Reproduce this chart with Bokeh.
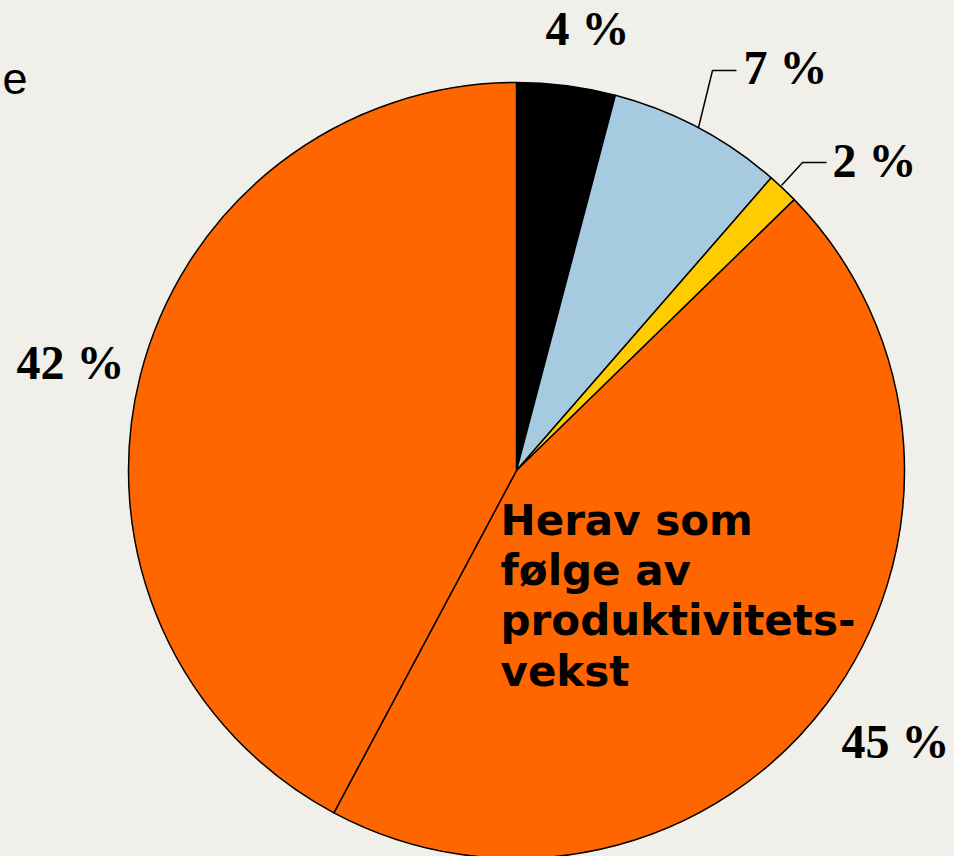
import numpy as np
from bokeh.plotting import figure
from bokeh.models import Range1d, GlobalInlineStyleSheet
from bokeh.core.properties import value
from bokeh.embed import file_html
from bokeh.resources import INLINE

# ---- data ----
shares = [4.1, 7.3, 1.3, 45.1, 42.2]          # percent, clockwise from 12 o'clock
labels = ["4 %", "7 %", "2 %", "45 %", "42 %"]
colors = ["#000000", "#A6CAE0", "#FFCC00", "#FF6600", "#FF6600"]
inner_text = ["Herav som", "følge av", "produktivitets-", "vekst"]
legend_fragment = "e"

BG = "#F0EFE9"
W, H = 954, 856

def Y(page_y):
    return H - page_y

def X(page_x):
    return page_x

p = figure(width=W, height=H, output_backend="svg", toolbar_location=None,
           x_range=Range1d(0, W), y_range=Range1d(0, H), min_border=0,
           background_fill_color=BG, border_fill_color=BG, outline_line_color=None)
p.axis.visible = False
p.grid.visible = False
p.stylesheets = [GlobalInlineStyleSheet(css=f"html, body {{ background: {BG}; }}")]

frac = np.array(shares) / np.sum(shares)
cum = np.concatenate([[0], np.cumsum(frac)])
start = np.pi / 2 - 2 * np.pi * cum[:-1]
end = np.pi / 2 - 2 * np.pi * cum[1:]

cx, cy, r = X(516), Y(470), 388
p.wedge(x=cx, y=cy, radius=r, start_angle=start, end_angle=end, direction="clock",
        fill_color=colors, line_color="black", line_width=1.5)

# percentage labels (left x, baseline in page px)
lab_pos = [(545, 28), (743, 67), (832, 160), (841, 741), (16, 362)]
p.text(x=[X(a) for a, b in lab_pos], y=[Y(b) for a, b in lab_pos], text=labels,
       text_font=value("Liberation Serif"), text_font_style="bold",
       text_font_size="48px", text_color="black",
       text_align="left", text_baseline="alphabetic")

# leader lines
p.line(x=[X(698), X(712), X(736)], y=[Y(127), Y(70), Y(70)], line_color="black", line_width=1.5)
p.line(x=[X(781), X(802), X(826)], y=[Y(185), Y(162), Y(162)], line_color="black", line_width=1.5)

# inner annotation
base = [520, 570, 620, 671]
p.text(x=[X(500)] * 4, y=[Y(b) for b in base], text=inner_text,
       text_font=value("DejaVu Sans"), text_font_style="bold",
       text_font_size="42px", text_color="black",
       text_align="left", text_baseline="alphabetic")

# cut-off legend fragment
p.text(x=[X(2)], y=[Y(78)], text=[legend_fragment],
       text_font=value("Liberation Sans"), text_font_size="45px", text_color="black",
       text_align="left", text_baseline="alphabetic")

open("out.html", "w").write(file_html(p, INLINE))
